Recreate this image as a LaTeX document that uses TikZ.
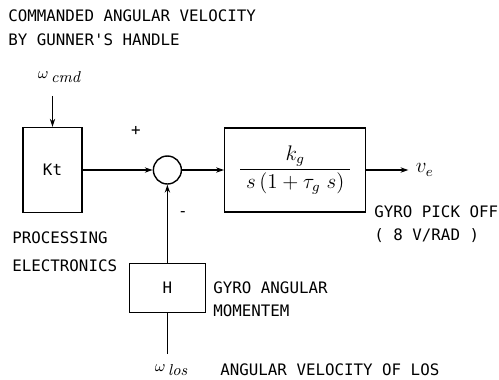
\documentclass[tikz,border=0pt]{standalone}
\usepackage{amsmath,amssymb}
\usepackage{fontspec}
\newfontfamily\labelfont{DejaVu Sans Mono}
\usetikzlibrary{arrows.meta, positioning}

\begin{document}
\begin{tikzpicture}[x=0.02cm, y=-0.02cm, font=\labelfont\fontsize{9}{11}\selectfont, inner sep=0pt,
    blk/.style={draw, thick},
    sumc/.style={draw, thick, circle, minimum size=0.56cm},
    sig/.style={thick, -{Stealth[length=4.5pt, width=3pt]}},
    lbl/.style={anchor=west, align=left}]
    \useasboundingbox (0,0) rectangle (499,379);
    \node[blk, minimum width=1.18cm, minimum height=1.7cm] (kt) at (52.5,170) {Kt};
    \node[sumc, right=1.4cm of kt] (sum) {};
    \node[blk, minimum width=2.82cm, minimum height=1.68cm, right=0.84cm of sum] (gyro) {\large$\dfrac{k_{g}}{\;s\,(1+\tau_{g}\;s)\;}$};
    \node[blk, minimum width=1.52cm, minimum height=0.98cm, below=1.56cm of sum] (mom) {H};
    \coordinate[right=0.84cm of gyro] (out);
    \node[right=0.14cm of out] (ve) {\large$v_{e}$};
    \coordinate[above=0.62cm of kt] (cmdin);
    \coordinate[below=0.82cm of mom] (losin);
    \node (wcmd) at (59,77) {$\omega$\,\raisebox{-2pt}{$\mathit{cmd}$}};
    \node (wlos) at (171,370) {$\omega$\,\raisebox{-2pt}{$\mathit{los}$}};
    \draw[sig] (cmdin) -- (kt);
    \draw[sig] (kt) -- (sum);
    \draw[sig] (sum) -- (gyro);
    \draw[sig] (gyro) -- (out);
    \draw[sig] (mom) -- (sum);
    \draw[thick] (losin) -- (mom);
    \node (plus) at (136,131) {+};
    \node (minus) at (183,214) {-};
    % labels
    \node[lbl] (ttl) at (8,28) {COMMANDED ANGULAR VELOCITY\\[2.6pt]BY GUNNER'S HANDLE};
    \node[lbl] (proclbl) at (12,252) {PROCESSING\\[4.9pt]ELECTRONICS};
    \node[lbl] (picklbl) at (374,224.5) {GYRO PICK OFF\\[2pt]( 8 V/RAD )};
    \node[lbl] (momlbl) at (213,299.5) {GYRO ANGULAR\\[2pt]MOMENTEM};
    \node[lbl] (loslbl) at (220,370) {ANGULAR VELOCITY OF LOS};
\end{tikzpicture}
\end{document}
